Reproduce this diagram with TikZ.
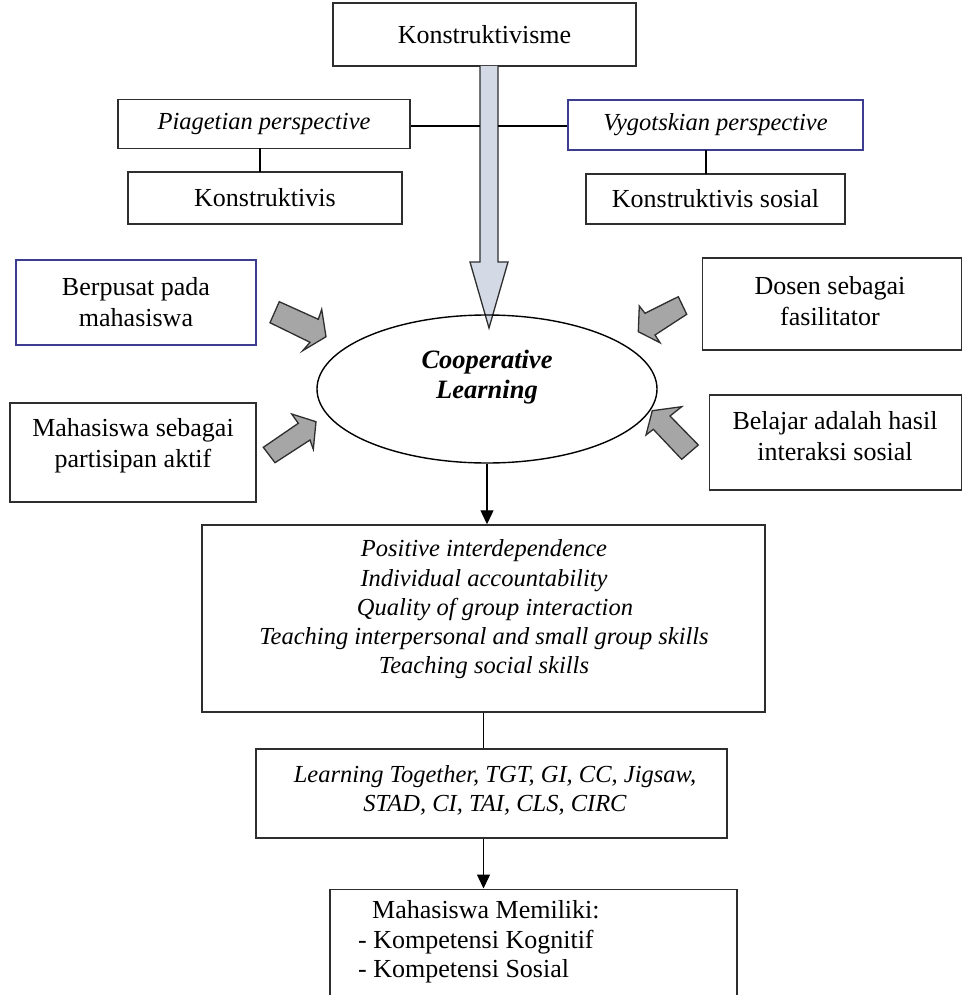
\documentclass[tikz,border=0pt]{standalone}
\usepackage{fontspec}
\setmainfont{Liberation Serif}
\usetikzlibrary{arrows.meta,shapes.geometric}
\definecolor{edgec}{HTML}{2E2E2E}
\definecolor{bluec}{HTML}{3C3C90}
\definecolor{shaftfill}{HTML}{D3DAE5}
\definecolor{blockfill}{HTML}{A6A6A6}
\tikzset{
  box/.style={draw=edgec, line width=1.5pt, rectangle, inner sep=0pt, align=center,
    font=\fontsize{26}{31}\selectfont},
  itbox/.style={box, font=\fontsize{24.5}{29.5}\selectfont\itshape},
  plain/.style={inner sep=0pt, align=center, font=\fontsize{26}{31}\selectfont},
  ittext/.style={inner sep=0pt, align=center, font=\fontsize{24.5}{29.2}\selectfont\itshape},
  conn/.style={draw=black, line width=1.4pt},
  arr/.style={conn, -{Triangle[length=14pt,width=13pt]}},
  blockarrow/.style={draw=edgec, line width=1.3pt, fill=blockfill, line join=miter},
  bigarrow/.style={draw=edgec, line width=1.3pt, fill=shaftfill, line join=miter}
}
\begin{document}
\begin{tikzpicture}[x=1pt,y=-1pt]
\useasboundingbox (0,0) rectangle (963,995);
\fill[white] (0,0) rectangle (963,995);

% top boxes
\node[box, minimum width=303pt, minimum height=63pt] (konst) at (484.5,34.5) {Konstruktivisme};
\node[itbox, minimum width=292pt, minimum height=49pt] (piaget) at (264,124) {Piagetian perspective};
\node[itbox, draw=bluec, minimum width=295pt, minimum height=50pt] (vygot) at (715.5,125) {Vygotskian perspective};
\node[box, minimum width=274pt, minimum height=52pt] (konsv) at (265,198) {Konstruktivis};
\node[box, minimum width=259pt, minimum height=50pt] (konsos) at (715.5,199) {Konstruktivis sosial};

% big shaft arrow
\coordinate (shL) at (480,126);
\coordinate (shR) at (498,126);
\draw[bigarrow] (480,66) -- (480,262) -- (470,262) -- (489,328) -- (508,262) -- (498,262) -- (498,66);
\draw[conn] (piaget.east |- shL) -- (shL);
\draw[conn] (shR) -- (vygot.west |- shR);
\draw[conn] (260,148.5) -- (260,172);
\draw[conn] (706,150) -- (706,174);

% side boxes
\node[box, draw=bluec, minimum width=240pt, minimum height=85pt] (berpusat) at (136,302.5) {Berpusat pada\\mahasiswa};
\node[box, minimum width=259pt, minimum height=92pt] (dosen) at (832,304) {};
\node[plain] (dosent) at (830,301) {Dosen sebagai\\fasilitator};
\node[box, minimum width=246pt, minimum height=99pt] (mhs) at (133,452.5) {};
\node[plain] (mhst) at (133,446) {Mahasiswa sebagai\\partisipan aktif};
\node[box, minimum width=252pt, minimum height=95pt] (belajar) at (835.5,442.5) {};
\node[plain] (belajart) at (835,436) {Belajar adalah hasil\\interaksi sosial};

% ellipse
\node[draw=black, line width=1.4pt, ellipse, minimum width=340pt, minimum height=148pt, inner sep=0pt] (coop) at (487,389) {};
\node[inner sep=0pt, align=center, font=\fontsize{26.5}{30}\selectfont\bfseries\itshape] (coopt) at (487,377) {Cooperative\\Learning};

% block arrows
\draw[blockarrow] (279.3,301.7) -- (318.3,319.3) -- (321.7,309.3) -- (326,336.7) -- (302.7,350.7) -- (310,342.3) -- (270,322.7) -- cycle;
\draw[blockarrow] (678.3,296.7) -- (645,313.3) -- (639.3,306) -- (638.3,331.7) -- (660,342.7) -- (655,335) -- (686.7,314.3) -- cycle;
\draw[blockarrow] (263.3,447.3) -- (298.3,423.3) -- (291.7,414) -- (316,421.7) -- (313.3,449.3) -- (310,440) -- (275,462.7) -- cycle;
\draw[blockarrow] (652.3,410.7) -- (681.7,406.7) -- (670,416) -- (698.3,445) -- (681.7,459.3) -- (653.3,429.3) -- (646,435) -- cycle;

% principles
\node[box, minimum width=563pt, minimum height=187pt] (princ) at (483.5,618.5) {};
\node[ittext] (princt) at (484,609.5) {Positive interdependence\\Individual accountability\\\hspace*{22pt}Quality of group interaction\\Teaching interpersonal and small group skills\\Teaching social skills};
\draw[arr] (coop.south) -- (coop.south |- princ.north);

% models
\node[box, minimum width=471pt, minimum height=89pt] (learn) at (491.5,793.5) {};
\node[ittext] (learnt) at (495,790.5) {Learning Together, TGT, GI, CC, Jigsaw,\\STAD, CI, TAI, CLS, CIRC};
\draw[conn] (princ.south) -- (princ.south |- learn.north);

% outcome
\node[box, anchor=north, minimum width=407pt, minimum height=130pt] (mem) at (533.5,888.5) {};
\node[inner sep=0pt, align=left, anchor=west, font=\fontsize{26}{29.5}\selectfont] (memt) at (358,942) {\hspace*{14pt}Mahasiswa Memiliki:\\- Kompetensi Kognitif\\- Kompetensi Sosial};
\draw[arr] (princ.south |- learn.south) -- (princ.south |- mem.north);
\end{tikzpicture}
\end{document}
